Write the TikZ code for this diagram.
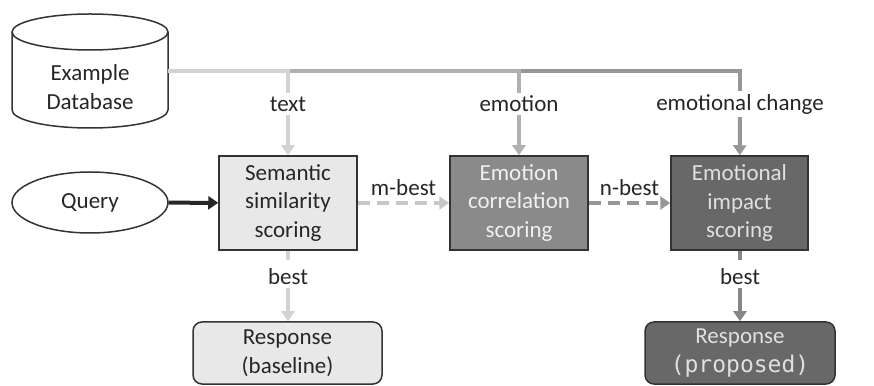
\documentclass[tikz,border=0pt]{standalone}
\usepackage{fontspec}
\setmainfont{Carlito}
\newfontfamily\codefont{DejaVu Sans Mono}
\usetikzlibrary{arrows.meta,shapes.geometric}
\definecolor{gA}{HTML}{D2D2D2}
\definecolor{gB}{HTML}{B0B0B0}
\definecolor{gC}{HTML}{969696}
\definecolor{boxA}{HTML}{E8E8E8}
\definecolor{boxB}{HTML}{8A8A8A}
\definecolor{boxC}{HTML}{686868}
\definecolor{edge}{HTML}{333333}
\tikzset{
  x=1pt, y=1pt,
  every node/.style={font=\fontsize{23}{28.5}\selectfont, text=black!85},
  tip/.style={-{Triangle[width=13pt,length=10pt]}},
  conn/.style={line width=4pt},
  stepbox/.style={draw=edge, line width=1.5pt, minimum width=138pt, minimum height=94pt,
    align=center, inner sep=0pt},
  respbox/.style={draw=edge, line width=1.5pt, rounded corners=9pt, minimum width=190pt,
    minimum height=62pt, align=center, inner sep=0pt},
  lbl/.style={inner sep=3pt},
}
\begin{document}
\begin{tikzpicture}
\useasboundingbox (0,0) rectangle (874,385);

% example database (cylinder)
\draw[edge, line width=1.5pt, fill=white]
  (12,353) -- (12,275) arc[start angle=180, end angle=360, x radius=78, y radius=18]
  -- (168,353);
\draw[edge, line width=1.5pt] (90,353) ellipse[x radius=78, y radius=18];
\node[align=center] (db) at (90,298) {Example\\Database};
\coordinate (dbE) at (168,314);

% query
\node[draw=edge, line width=1.5pt, ellipse, minimum width=156pt, minimum height=61pt,
  inner sep=0pt] (q) at (90,182.5) {Query};

% scoring stages
\node[stepbox, fill=boxA] (sem) at (288,182) {Semantic\\similarity\\scoring};
\node[stepbox, fill=boxB, text=white!94!black] (emo) at (519,182) {Emotion\\correlation\\scoring};
\node[stepbox, fill=boxC, text=white!88!black, minimum width=137pt] (imp) at (739.5,182)
  {Emotional\\impact\\scoring};

% responses
\node[respbox, fill=boxA, minimum width=189pt] (r1) at (287.5,32) {Response\\(baseline)};
\node[respbox, fill=boxC, text=white!88!black] (r2) at (740,32)
  {Response\\{\codefont(proposed)}};

% bus junctions and labels
\coordinate (jt) at (288,314);
\coordinate (je) at (519,314);
\coordinate (jc) at (740,314);
\node[lbl] (lt) at (288,281) {text};
\node[lbl] (le) at (519,281) {emotion};
\node[lbl] (lc) at (740,281) {emotional change};

% database bus
\draw[conn, gC] (je) -- (jc) -- (lc);
\draw[conn, gB] (jt) -- (je) -- (le);
\draw[conn, gA] (dbE) -- (jt) -- (lt);

% feeds into each stage
\draw[conn, tip, gA] (lt) -- (sem);
\draw[conn, tip, gB] (le) -- (emo);
\draw[conn, tip, gC] (lc) -- (imp);

% query into first stage
\draw[conn, tip, black!85] (q) -- (sem);

% candidate lists
\draw[conn, tip, gA!95!black, dash pattern=on 12pt off 7pt] (sem) -- node[above=2pt, text=black!85] {m-best} (emo);
\draw[conn, tip, gC, dash pattern=on 12pt off 7pt] (emo) -- node[above=2pt, text=black!85] {n-best} (imp);

% best outputs
\node[lbl] (b1) at (288,108) {best};
\node[lbl] (b2) at (740,108) {best};
\draw[conn, gA, shorten >=6pt] (sem) -- (b1);
\draw[conn, tip, gA] (b1) -- (r1.north -| b1);
\draw[conn, gC!90!black, shorten >=6pt] (imp.south -| b2) -- (b2);
\draw[conn, tip, gC!90!black] (b2) -- (r2);
\end{tikzpicture}
\end{document}
